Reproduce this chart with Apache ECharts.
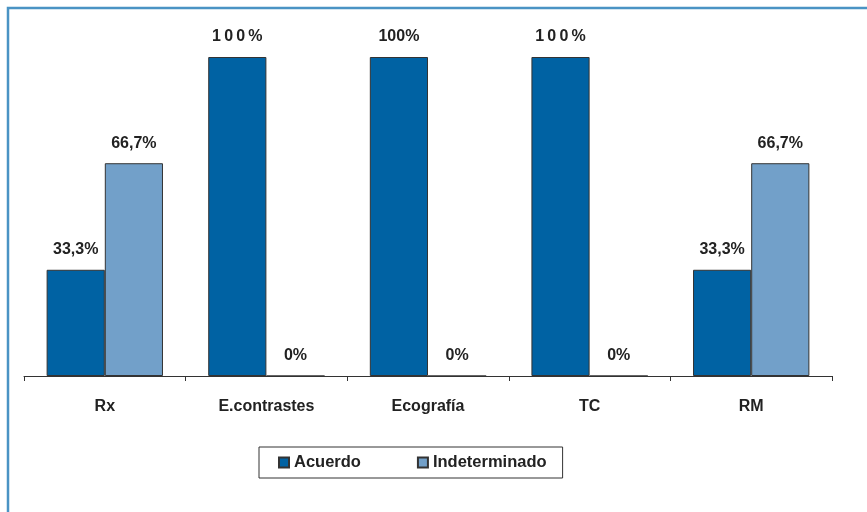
<!DOCTYPE html>
<html>
<head>
<meta charset="utf-8">
<script src="https://cdn.jsdelivr.net/npm/echarts@6/dist/echarts.min.js"></script>
<style>
  html, body { margin: 0; padding: 0; background: #fff; }
  #chart { width: 867px; height: 512px; }
</style>
</head>
<body>
<div id="chart"></div>
<script>
// Imaging techniques and agreement percentages
const categories = ['Rx', 'E.contrastes', 'Ecografía', 'TC', 'RM'];
const acuerdo = [33.3, 100, 100, 100, 33.3];
const indeterminado = [66.7, 0, 0, 0, 66.7];
const seriesNames = ['Acuerdo', 'Indeterminado'];
// Categories whose 100% label is printed with wide character spacing
const spacedLabelCategories = ['E.contrastes', 'TC'];

const FONT = '"Liberation Sans", Arial, sans-serif';

function fmt(v, cat) {
  let s = (Math.round(v * 10) / 10).toString().replace('.', ',') + '%';
  if (spacedLabelCategories.includes(cat) && v === 100) {
    s = s.split('').join('\u2009');
  }
  return s;
}

const labelStyle = {
  show: true,
  position: 'top',
  distance: 12,
  color: '#222',
  fontFamily: FONT,
  fontWeight: 'bold',
  fontSize: 16,
  formatter: p => fmt(p.value, p.name)
};

const chart = echarts.init(document.getElementById('chart'));
chart.setOption({
  animation: false,
  backgroundColor: '#fff',
  grid: { left: 24, right: 35, top: 57, bottom: 136, containLabel: false },
  xAxis: {
    type: 'category',
    data: categories,
    axisLine: { lineStyle: { color: '#333', width: 1 } },
    axisTick: { show: true, length: 5, inside: false, lineStyle: { color: '#333' } },
    axisLabel: {
      color: '#222', fontFamily: FONT, fontWeight: 'bold', fontSize: 16, margin: 23
    }
  },
  yAxis: {
    type: 'value', min: 0, max: 100,
    show: false,
    splitLine: { show: false }
  },
  legend: {
    data: seriesNames,
    left: 259,
    top: 447,
    orient: 'horizontal',
    padding: [7, 16, 7, 19],
    itemWidth: 10,
    itemHeight: 10,
    itemGap: 56,
    borderColor: '#333',
    borderWidth: 1,
    textStyle: { color: '#222', fontFamily: FONT, fontWeight: 'bold', fontSize: 16.5 },
    icon: 'rect'
  },
  series: [
    {
      name: seriesNames[0],
      type: 'bar',
      data: acuerdo,
      barGap: '0%',
      barCategoryGap: '28%',
      itemStyle: { color: '#0062A3', borderColor: '#333', borderWidth: 1 },
      label: labelStyle
    },
    {
      name: seriesNames[1],
      type: 'bar',
      data: indeterminado,
      itemStyle: { color: '#72A0C9', borderColor: '#333', borderWidth: 1 },
      label: labelStyle
    }
  ],
  graphic: [
    {
      type: 'polyline',
      shape: { points: [[8, 512], [8, 8], [867, 8]] },
      style: { stroke: '#4A93C4', lineWidth: 2.5, fill: null },
      silent: true
    }
  ]
});
</script>
</body>
</html>
